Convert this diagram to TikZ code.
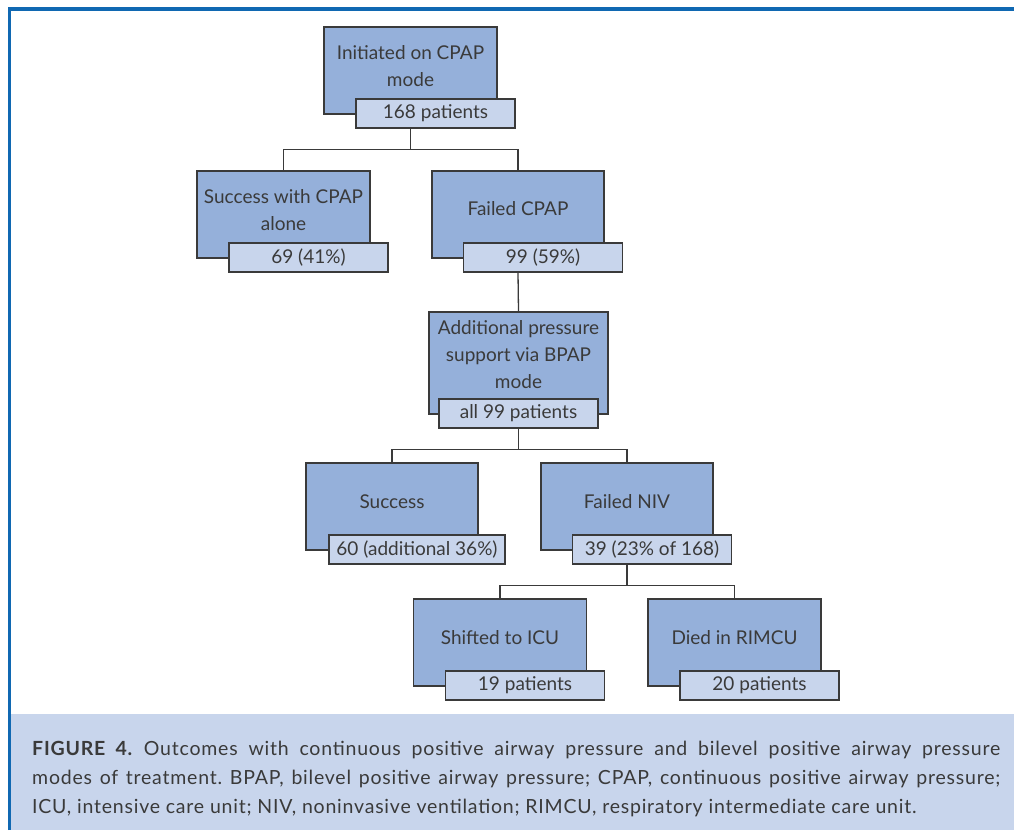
\documentclass[tikz,border=0pt]{standalone}
\usepackage{fontspec}
\setmainfont{Lato}
\newfontfamily\capfont[LetterSpace=4]{Lato}
\usepackage{xcolor}
\usepackage{tikz}
\usetikzlibrary{positioning,calc}
\definecolor{FrameBlue}{RGB}{16,104,178}
\definecolor{StageBlue}{RGB}{149,176,218}
\definecolor{TallyBlue}{RGB}{200,213,236}
\definecolor{InkGray}{RGB}{58,58,58}

\begin{document}
\begin{tikzpicture}[x=1pt,y=-1pt,every node/.style={font=\fontsize{19}{27}\selectfont,text=InkGray}]
\tikzset{stage/.style={draw=InkGray,line width=1.5pt,fill=StageBlue,minimum width=173pt,minimum height=87pt,inner sep=0pt,align=center,text depth=10pt},
  tally/.style={draw=InkGray,line width=1.5pt,fill=TallyBlue,minimum width=159pt,minimum height=29pt,inner sep=0pt},
  link/.style={draw=InkGray,line width=1.3pt}}
\useasboundingbox (0,0) rectangle (1014,830);
% caption panel and frame
\fill[TallyBlue] (11,714) rectangle (1014,830);
\draw[FrameBlue,line width=3.5pt] (9.5,830) -- (9.5,9) -- (1014,9);
\node[stage,text depth=8pt] (n1) at (410.5,70.5) {Initiated on CPAP\\mode};
\node[stage,text depth=9pt] (n2) at (283.5,214.5) {Success with CPAP\\alone};
\node[stage,minimum width=172pt,text depth=12pt] (n3) at (518,214.5) {Failed CPAP};
\node[stage,minimum width=179pt,minimum height=102pt,text depth=17pt] (n4) at (518.5,363) {Additional pressure\\support via BPAP\\mode};
\node[stage,minimum width=172pt] (n5) at (392,506.5) {Success};
\node[stage,minimum width=172pt] (n6) at (627,506.5) {Failed NIV};
\node[stage,text depth=11pt] (n7) at (500,642.5) {Shifted to ICU};
\node[stage,text depth=11pt] (n8) at (734.5,642.5) {Died in RIMCU};
% patient counts
\node[tally] (c1) at ($(n1.south)+(25,-1.5)$) {168 patients};
\node[tally] (c2) at ($(n2.south)+(25,-1.5)$) {69 (41\%)};
\node[tally] (c3) at ($(n3.south)+(25,-1.5)$) {99 (59\%)};
\node[tally] (c4) at ($(n4.south)+(0,-1.5)$) {all 99 patients};
\node[tally,minimum width=176pt] (c5) at ($(n5.south)+(25,-1.5)$) {60 (additional 36\%)};
\node[tally] (c6) at ($(n6.south)+(25,-1.5)$) {39 (23\% of 168)};
\node[tally] (c7) at ($(n7.south)+(25,-1.5)$) {19 patients};
\node[tally] (c8) at ($(n8.south)+(25,-1.5)$) {20 patients};
% tree links
\coordinate (b1) at ($(c1.south -| n1)+(0,21)$);
\draw[link] (c1.south -| n1) -- (b1) -| (n2.north);
\draw[link] (b1) -| (n3.north);
\draw[link] (c3.south -| n3) -- (n4.north);
\coordinate (b2) at ($(c4.south)+(0,21)$);
\draw[link] (c4.south) -- (b2) -| (n5.north);
\draw[link] (b2) -| (n6.north);
\coordinate (b3) at ($(c6.south -| n6)+(0,21)$);
\draw[link] (c6.south -| n6) -- (b3) -| (n7.north);
\draw[link] (b3) -| (n8.north);
\node[anchor=north west,inner sep=0pt,text width=968pt,align=justify,font=\capfont\fontsize{19.5}{29}\selectfont\frenchspacing] (cap) at (32,741) {\textbf{FIGURE 4.} Outcomes with continuous positive airway pressure and bilevel positive airway pressure\linebreak modes of treatment. BPAP, bilevel positive airway pressure; CPAP, continuous positive airway pressure;\linebreak ICU, intensive care unit; NIV, noninvasive ventilation; RIMCU, respiratory intermediate care unit.};
\end{tikzpicture}
\end{document}
